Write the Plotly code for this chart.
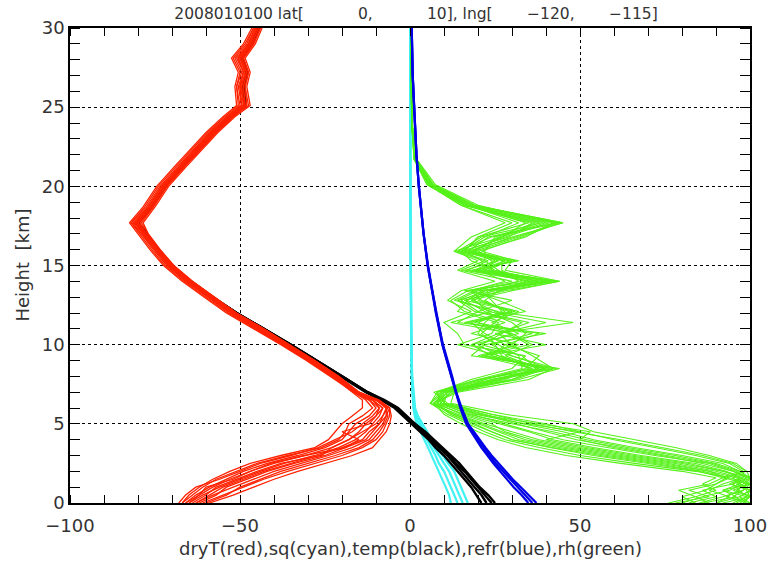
import plotly.graph_objects as go

# ---------------- profile data (x units per variable, height in km) ----------------
# dryT (red) and temp (black) share one height grid
T_HEIGHTS = [0, 0.5, 1, 1.5, 2, 2.5, 3, 3.5, 4, 4.5, 5, 5.5, 6, 6.5, 7,
             8, 9, 10, 11, 12, 13, 14, 15, 16, 17, 17.7, 18.7, 20, 21.2, 22.5,
             23.4, 24.4, 25.1, 26.3, 27.2, 28.1, 29, 30]

DRYT_MEMBERS = [
    [-67, -65, -62, -58, -53, -47, -38, -28, -24, -22, -20, -17, -14, -14, -17,
     -23, -30, -37.5, -45, -53, -59.5, -66, -71.5, -75.5, -79, -82, -77.5, -73.5, -68.5, -63,
     -59, -54, -50, -51, -49.5, -51.5, -48, -46],
    [-66, -63, -59, -54, -49, -42, -33, -25, -20, -18, -16, -12, -10, -12, -16,
     -22.5, -29.5, -37, -44.5, -52.5, -59, -65.5, -71, -75, -78.5, -81, -77, -73, -68, -62.5,
     -58.5, -53.5, -49.5, -50, -49, -50.5, -47.5, -45.5],
    [-65, -61, -56, -50, -44, -37, -28, -21, -16, -13, -11, -9, -8, -11, -16,
     -22, -29, -36.5, -44, -52, -58.5, -65, -70.5, -74.5, -78, -80.5, -76.5, -72.5, -67.5, -62,
     -58, -53, -49, -49.5, -48.5, -50, -47, -45],
    [-63, -58, -52, -46, -40, -32, -24, -17, -12, -10, -8, -7, -7, -10, -15.5,
     -21.5, -28.5, -36, -43.5, -51.5, -58, -64.5, -70, -74, -77.5, -80, -76, -72, -67, -61.5,
     -57.5, -52.5, -48.5, -49, -48, -49.5, -46.5, -44.5],
    [-61, -55, -49, -43, -36, -28, -20, -14, -10, -8, -7, -6, -6, -9, -15,
     -21, -28, -35.5, -43, -51, -57.5, -64, -69.5, -73.5, -77, -79, -75.5, -71.5, -66.5, -61,
     -57, -52, -47.5, -48.5, -47.5, -49, -46, -44],
    [-59, -52, -46, -40, -33, -25, -17, -11, -9, -7, -6, -5.5, -6, -9.5, -15.5,
     -21.5, -28.5, -36, -44, -52.5, -59, -65.5, -70, -74, -78, -81, -76, -72, -67, -61.5,
     -58, -53.5, -48.5, -50, -48, -50, -47, -45],
    [-66, -62, -60, -52, -47, -41, -31, -19, -15, -20, -12, -10, -9, -11, -16,
     -22.5, -30, -37.5, -45, -52.5, -59, -66, -71, -75, -79, -81.5, -77, -73, -68, -62.5,
     -58.5, -53.5, -49.5, -50.5, -49, -51, -47.5, -45.5],
    [-64, -60, -57, -51, -45, -38, -26, -23, -18, -14, -10, -8, -6.5, -10, -16,
     -22, -29, -36.5, -44, -51.5, -58, -64.5, -70.5, -74.5, -78, -80, -76, -72, -67, -61.5,
     -57.5, -52.5, -48.5, -49, -48, -49.5, -46.5, -44.5],
    [-68, -66, -63, -56, -50, -44, -35, -27, -22, -17, -14, -11, -9, -12, -16.5,
     -23, -30, -37.5, -45.5, -53.5, -60, -66.5, -72, -76, -79.5, -82, -78, -74, -69, -63.5,
     -59.5, -54.5, -50.5, -51, -50, -52, -48.5, -46],
    [-62, -57, -54, -48, -42, -34, -25, -19, -13, -11, -9, -7, -6, -10, -15,
     -21.5, -28.5, -36, -43.5, -51.5, -58, -64.5, -70, -74, -77.5, -79.5, -75.5, -71.5, -66.5, -61,
     -57, -52, -48, -48.5, -47.5, -49, -46, -44],
    [-65, -62, -58, -53, -47, -40, -31, -23, -18, -15, -13, -10, -8, -11, -16,
     -22.5, -29.5, -37, -44.5, -52.5, -59, -65.5, -71, -75, -78.5, -81, -77, -73, -68, -62.5,
     -58.5, -53.5, -49.5, -50, -49, -50.5, -47.5, -45.5],
    [-60, -54, -50, -44, -38, -30, -22, -15, -11, -9, -7.5, -6.5, -7, -9.5, -15,
     -21, -28, -35.5, -43, -51, -57.5, -64, -69.5, -73.5, -77, -78.5, -75, -71, -66, -60.5,
     -56.5, -51.5, -47, -48, -47, -48.5, -45.5, -43.5],
    [-67, -64, -61, -57, -51, -45, -36, -26, -21, -19, -18, -14, -11, -13, -16.5,
     -23.5, -30.5, -38, -46, -54, -60.5, -67, -72.5, -76.5, -80, -82.5, -78.5, -74.5, -69.5, -64,
     -60, -55, -51, -51.5, -50.5, -52.5, -49, -46.5],
    [-63, -59, -55, -49, -43, -35, -27, -20, -14, -12, -9, -8, -7, -10, -15.5,
     -22, -29, -36.5, -44, -52, -58.5, -65, -70.5, -74.5, -78, -80.5, -76.5, -72.5, -67.5, -62,
     -58, -53, -49, -49.5, -48.5, -50, -47, -45],
]

TEMP_MEMBERS = [
    [21, 19.5, 18, 16, 14, 12, 10, 7.5, 5.5, 3, 0.5, -2, -4.5, -8.5, -13,
     -20.5, -28, -35.5, -43, -51, -58, -64.5, -70, -74, -77.5, -80, -76, -72, -67, -61.5,
     -57.5, -52.5, -48.5, -49, -48, -49.5, -46.5, -44.5],
    [22.5, 21, 19, 17, 15, 13, 11, 8.5, 6, 3.5, 1, -1.5, -4, -8, -12.5,
     -20, -27.5, -35, -43, -51, -58, -64.5, -70, -74, -77.5, -80, -76, -72, -67, -61.5,
     -57.5, -52.5, -48.5, -49, -48, -49.5, -46.5, -44.5],
    [24, 22, 20, 18, 16, 13.5, 11.5, 9, 6.5, 4, 1.5, -1.5, -4, -8, -12.5,
     -20, -27.5, -35, -43, -51, -58, -64.5, -70, -74, -77.5, -80, -76, -72, -67, -61.5,
     -57.5, -52.5, -48.5, -49, -48, -49.5, -46.5, -44.5],
    [25, 23, 20.5, 18.5, 16.5, 14.5, 12, 9.5, 7, 4.5, 1.5, -1, -3.5, -7.5, -12.5,
     -20, -27.5, -35, -43, -51, -58, -64.5, -70, -74, -77.5, -80, -76, -72, -67, -61.5,
     -57.5, -52.5, -48.5, -49, -48, -49.5, -46.5, -44.5],
]

# specific humidity (cyan)
SQ_HEIGHTS = [0, 0.5, 1, 1.5, 2, 2.5, 3, 3.5, 4, 4.5, 5, 5.5, 6, 7, 8, 10, 12, 15, 20, 25, 30]
SQ_MEMBERS = [
    [12, 11.5, 10.5, 9.5, 8.5, 7.5, 6.5, 5.3, 4.2, 3, 2, 1.4, 1, 0.7, 0.5, 0.35, 0.25, 0.15, 0.1, 0.05, 0.05],
    [14, 13, 12, 11, 10, 8.5, 7.5, 6.2, 5, 3.8, 2.6, 1.8, 1.2, 0.8, 0.55, 0.4, 0.3, 0.2, 0.1, 0.05, 0.05],
    [15.5, 14.5, 13.5, 12.5, 11.5, 10, 8.5, 7, 5.6, 4.3, 3, 2, 1.3, 0.9, 0.6, 0.4, 0.3, 0.2, 0.1, 0.05, 0.05],
    [17, 16, 15, 14, 13, 11.2, 9.5, 8, 6.4, 5, 3.5, 2.3, 1.5, 1, 0.65, 0.45, 0.3, 0.2, 0.1, 0.05, 0.05],
]

# refractivity (blue)
REFR_HEIGHTS = [0, 0.5, 1, 1.5, 2, 2.5, 3, 3.5, 4, 5, 6, 7, 8, 9, 10, 12, 14, 15, 17, 20, 22, 25, 27, 30]
REFR_MEMBERS = [
    [34.8, 32.8, 30.5, 28.5, 26.6, 24.5, 22.8, 21, 19.5, 16.5, 14.8, 13.4, 12.2, 10.8, 9.5, 7.6, 6, 5.2, 4, 2.6, 1.9, 1.2, 0.8, 0.5],
    [36, 33.8, 31.5, 29.3, 27.3, 25.2, 23.4, 21.6, 20, 16.8, 15, 13.5, 12.3, 10.9, 9.6, 7.7, 6, 5.2, 4, 2.6, 1.9, 1.2, 0.8, 0.5],
    [37.2, 35, 32.6, 30.2, 28.1, 26, 24, 22.2, 20.5, 17.1, 15.2, 13.6, 12.4, 11, 9.7, 7.7, 6.1, 5.3, 4, 2.6, 1.9, 1.2, 0.8, 0.5],
]

# relative humidity (green)
RH_HEIGHTS = [0, 0.4, 0.8, 1.2, 1.6, 2.0, 2.5, 3.0, 3.5, 4.0, 4.5, 5.0, 5.6, 6.3, 7.0, 7.8,
              8.5, 9.3, 10.0, 10.7, 11.4, 12.1, 12.8, 13.4, 14.0, 14.7, 15.3, 15.9, 16.8,
              17.7, 18.8, 20.1, 21.7, 24, 27, 30]
RH_MEMBERS = [
    [96, 99, 92, 97, 99, 95, 88, 72, 58, 45, 36, 28, 18, 8, 9, 24, 40, 26, 20, 30, 12, 24, 14, 20, 43, 22, 28, 14, 24, 44, 18, 6, 1.5, 0.6, 0.4, 0.3],
    [85, 92, 98, 99, 96, 88, 74, 58, 44, 32, 26, 20, 13, 7, 11, 28, 36, 20, 32, 18, 28, 16, 12, 17, 30, 15, 22, 13, 27, 38, 16, 5.5, 1.2, 0.5, 0.4, 0.3],
    [100, 97, 100, 94, 98, 98, 94, 84, 72, 60, 50, 40, 24, 10, 8, 20, 41, 30, 24, 36, 16, 30, 20, 24, 35, 18, 32, 18, 30, 45, 19, 7, 1.8, 0.6, 0.4, 0.3],
    [78, 88, 82, 90, 94, 84, 66, 50, 38, 28, 22, 17, 11, 6, 10, 30, 38, 24, 18, 26, 35, 20, 15, 22, 40, 25, 18, 15, 22, 32, 17, 6, 1.5, 0.5, 0.4, 0.2],
    [92, 100, 95, 100, 92, 99, 96, 88, 78, 66, 54, 48, 28, 12, 13, 22, 34, 38, 28, 22, 18, 34, 26, 18, 28, 20, 26, 20, 34, 42, 20, 7.5, 2, 0.7, 0.4, 0.3],
    [88, 84, 90, 86, 90, 80, 62, 46, 34, 26, 20, 15, 10, 7, 14, 35, 42, 22, 40, 25, 48, 25, 18, 30, 44, 28, 30, 16, 20, 35, 16, 5, 1.2, 0.5, 0.3, 0.2],
    [100, 95, 98, 100, 100, 95, 86, 74, 60, 50, 53, 38, 20, 9, 8, 18, 30, 34, 16, 14, 10, 18, 11, 15, 25, 14, 20, 13, 18, 28, 15, 5.5, 1.4, 0.6, 0.4, 0.3],
    [82, 90, 86, 95, 97, 90, 78, 62, 48, 36, 28, 24, 15, 8, 12, 26, 38, 28, 36, 30, 20, 28, 22, 26, 42, 24, 24, 19, 26, 40, 17, 6.5, 1.6, 0.6, 0.4, 0.3],
    [95, 99, 100, 97, 95, 97, 90, 78, 64, 52, 42, 30, 17, 9, 10, 32, 44, 18, 22, 40, 14, 20, 30, 16, 36, 16, 26, 17, 23, 43, 18, 6, 1.5, 0.5, 0.4, 0.3],
    [90, 94, 88, 92, 98, 92, 82, 66, 52, 40, 50, 34, 19, 10, 9, 22, 36, 26, 14, 24, 26, 14, 17, 21, 38, 20, 28, 15, 29, 36, 17, 6, 1.4, 0.5, 0.4, 0.3],
    [98, 100, 96, 99, 100, 99, 95, 86, 74, 62, 48, 36, 24, 11, 7, 20, 33, 32, 26, 20, 22, 26, 13, 19, 32, 26, 22, 22, 25, 37, 16, 5.8, 1.3, 0.5, 0.3, 0.2],
    [86, 96, 92, 100, 94, 86, 72, 56, 42, 30, 24, 18, 12, 8, 11, 24, 40, 22, 30, 34, 30, 22, 16, 28, 44, 21, 30, 17, 31, 45, 18, 6.2, 1.6, 0.6, 0.4, 0.3],
    [80, 86, 94, 98, 100, 92, 80, 64, 50, 38, 30, 22, 14, 6, 9, 26, 43, 30, 18, 32, 24, 32, 18, 22, 41, 19, 25, 16, 28, 41, 17, 6, 1.4, 0.5, 0.4, 0.3],
    [99, 93, 97, 95, 99, 96, 89, 76, 62, 49, 40, 31, 21, 9, 12, 30, 39, 24, 28, 38, 19, 27, 24, 21, 37, 23, 29, 19, 32, 43, 19, 6.8, 1.7, 0.6, 0.4, 0.3],
    [90, 97, 100, 100, 97, 93, 84, 68, 54, 42, 35, 26, 16, 7, 10, 27, 37, 33, 21, 27, 33, 19, 14, 25, 39, 17, 23, 14, 21, 39, 16, 5.6, 1.3, 0.5, 0.3, 0.2],
    [84, 80, 87, 90, 93, 88, 76, 60, 46, 34, 27, 21, 13, 6, 8, 21, 35, 27, 25, 21, 25, 29, 21, 18, 33, 27, 27, 18, 27, 34, 17, 6, 1.5, 0.6, 0.4, 0.3],
    [97, 100, 99, 96, 100, 97, 92, 80, 66, 54, 45, 33, 22, 10, 11, 25, 42, 36, 30, 26, 40, 23, 19, 23, 42, 19, 31, 21, 33, 44, 19, 6.6, 1.7, 0.6, 0.4, 0.3],
    [76, 84, 79, 88, 92, 85, 70, 54, 41, 30, 24, 19, 12, 7, 13, 31, 40, 21, 35, 29, 17, 31, 16, 27, 34, 22, 21, 16, 20, 30, 15, 5.2, 1.2, 0.5, 0.3, 0.2],
]

NB = "\u00a0"
TITLE = ("2008010100 lat[" + NB * 11 + "0," + NB * 11 + "10], lng["
         + NB * 7 + "\u2212120," + NB * 7 + "\u2212115]")
X_TITLE = "dryT(red),sq(cyan),temp(black),refr(blue),rh(green)"
Y_TITLE = "Height" + NB + " [km]"
X_TICKS = [-100, -50, 0, 50, 100]
X_TICK_TEXT = ["\u2212100", "\u221250", "0", "50", "100"]
Y_TICKS = [0, 5, 10, 15, 20, 25, 30]

TEXT_COLOR = "#333333"
FONT = "DejaVu Sans"


def bundle(heights, members, color, width, opacity=1.0):
    """One trace holding every member profile, separated by gaps."""
    xs, ys = [], []
    for m in members:
        xs += list(m) + [None]
        ys += list(heights) + [None]
    return go.Scatter(x=xs, y=ys, mode="lines", connectgaps=False,
                      line=dict(color=color, width=width), opacity=opacity,
                      hoverinfo="skip", showlegend=False)


fig = go.Figure()
fig.add_trace(bundle(SQ_HEIGHTS, SQ_MEMBERS, "#40f2f2", 2.2))
fig.add_trace(bundle(T_HEIGHTS, TEMP_MEMBERS, "#000000", 2.4))
fig.add_trace(bundle(T_HEIGHTS, DRYT_MEMBERS, "#ff2200", 1.3))
fig.add_trace(bundle(RH_HEIGHTS, RH_MEMBERS, "#44f000", 1.1, 0.9))
fig.add_trace(bundle(REFR_HEIGHTS, REFR_MEMBERS, "#0000e6", 2.2))

axis_common = dict(
    showline=True, linecolor="black", linewidth=1.5, mirror="allticks",
    showgrid=True, gridcolor="black", griddash="dot", gridwidth=1,
    zeroline=False, ticks="", automargin=False,
    tickfont=dict(family=FONT, size=18, color=TEXT_COLOR),
)

fig.update_xaxes(range=[-100, 100], tickvals=X_TICKS, ticktext=X_TICK_TEXT,
                 ticklabelstandoff=6,
                 minor=dict(dtick=10, tick0=0, ticks="inside", ticklen=8, tickcolor="black",
                            tickwidth=1, showgrid=False),
                 **axis_common)
fig.update_yaxes(range=[0, 30], tickvals=Y_TICKS,
                 minor=dict(dtick=1, tick0=0, ticks="inside", ticklen=10, tickcolor="black",
                            tickwidth=1, showgrid=False),
                 **axis_common)

fig.update_layout(
    width=769, height=562,
    margin=dict(l=70, r=19, t=28, b=59),
    paper_bgcolor="white", plot_bgcolor="white",
    title=dict(text=TITLE, x=0.541, xanchor="center", y=1 - 14 / 562, yanchor="middle",
               yref="container", font=dict(family=FONT, size=15.5, color=TEXT_COLOR)),
    annotations=[
        dict(text=X_TITLE, xref="paper", yref="paper", x=0.5, y=-45 / 475,
             xanchor="center", yanchor="middle", showarrow=False,
             font=dict(family=FONT, size=18, color=TEXT_COLOR)),
        dict(text=Y_TITLE, xref="paper", yref="paper", x=-48 / 680, y=0.5,
             xanchor="center", yanchor="middle", textangle=-90, showarrow=False,
             font=dict(family=FONT, size=18, color=TEXT_COLOR)),
    ],
)

fig.write_html("out.html")
